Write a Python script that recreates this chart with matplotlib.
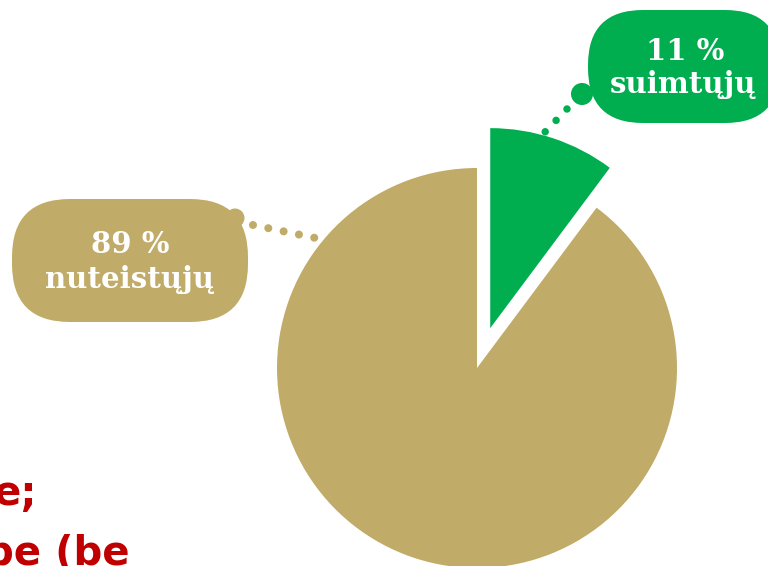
import matplotlib
matplotlib.use("Agg")
import matplotlib.pyplot as plt
from matplotlib.patches import FancyBboxPatch, Circle

# ---- data ----
categories = ["suimtųjų", "nuteistųjų"]
values = [10.2, 89.8]          # slice sizes as drawn in the picture
pct_labels = ["11 %", "89 %"]  # label text as printed
colors = ["#00AE4F", "#C0AC68"]
explode = [0.21, 0.0]
red_lines = ["e;", "be (be"]

W, H = 768, 566
fig = plt.figure(figsize=(W / 100, H / 100), dpi=100)
fig.patch.set_facecolor("white")

# pie axes: unit radius = 200 px, centre at pixel (477, 368)
S, cx, cy = 200.0, 477.0, 368.0
ax = fig.add_axes([0, 0, 1, 1])
ax.pie(values, colors=colors, startangle=90, counterclock=False,
       explode=explode, radius=1.0,
       wedgeprops=dict(linewidth=0))
ax.set_xlim(-cx / S, (W - cx) / S)
ax.set_ylim(-(H - cy) / S, cy / S)
ax.set_aspect("auto")
ax.axis("off")

# overlay axes in pixel coordinates (top-left origin)
ov = fig.add_axes([0, 0, 1, 1], zorder=5)
ov.set_xlim(0, W)
ov.set_ylim(H, 0)
ov.axis("off")
ov.patch.set_alpha(0)

serif = ["DejaVu Serif"]

# tan callout
tan = colors[1]
ov.add_patch(FancyBboxPatch((12, 199), 236, 123,
                            boxstyle="round,pad=0,rounding_size=58",
                            fc=tan, ec="none"))
ov.add_patch(Circle((235, 218), 9.5, fc=tan, ec="none"))
ov.plot([253, 318], [225, 238.5], color=tan, lw=5.8,
        linestyle=(0, (0.001, 1.94)), dash_capstyle="round",
        solid_capstyle="round")
ov.text(130, 253, pct_labels[1], ha="center", va="baseline", color="white",
        fontsize=21, fontweight="bold", family=serif)
ov.text(130, 288, categories[1], ha="center", va="baseline", color="white",
        fontsize=21, fontweight="bold", family=serif)

# green callout
grn = colors[0]
ov.add_patch(FancyBboxPatch((588, 10), 192, 113,
                            boxstyle="round,pad=0,rounding_size=55",
                            fc=grn, ec="none"))
ov.add_patch(Circle((582, 94), 11, fc=grn, ec="none"))
ov.plot([567, 544], [109, 133], color=grn, lw=5.4,
        linestyle=(0, (0.001, 2.1)), dash_capstyle="round",
        solid_capstyle="round")
ov.text(685, 60, pct_labels[0], ha="center", va="baseline", color="white",
        fontsize=21, fontweight="bold", family=serif)
ov.text(683, 93, categories[0], ha="center", va="baseline", color="white",
        fontsize=21, fontweight="bold", family=serif)

# cut-off red text at bottom left (as in the reference)
ov.text(37, 505, red_lines[0], ha="right", va="baseline", color="#C00000",
        fontsize=29, fontweight="bold", family=["DejaVu Sans"])
ov.text(130, 565, red_lines[1], ha="right", va="baseline", color="#C00000",
        fontsize=29, fontweight="bold", family=["DejaVu Sans"])

fig.savefig("out.png", dpi=100, facecolor="white")
